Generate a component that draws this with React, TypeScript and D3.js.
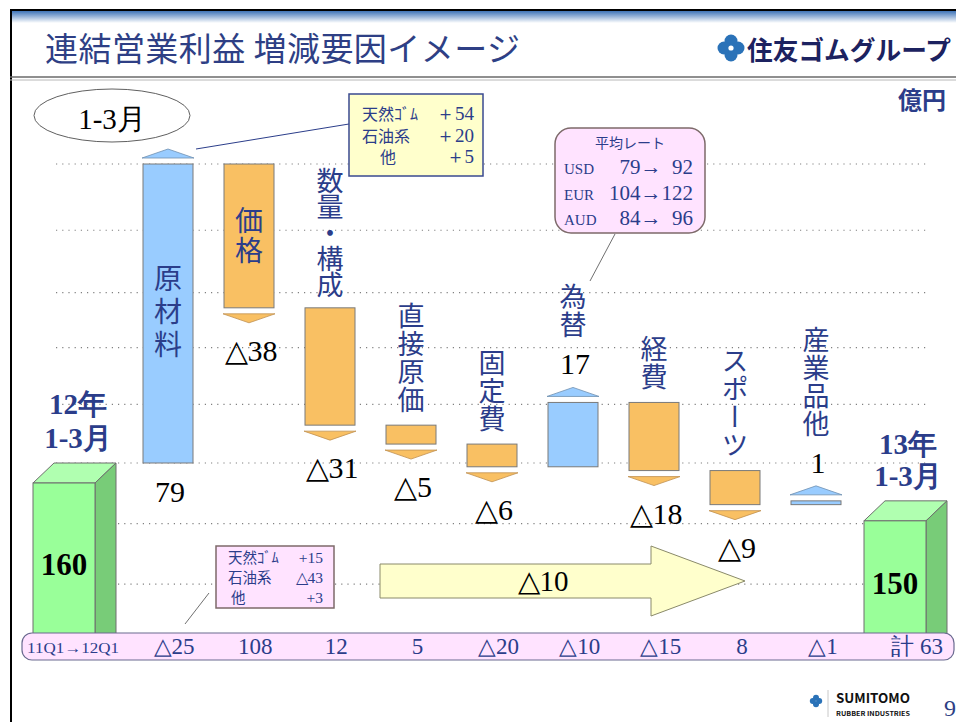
import React from 'react';
import * as d3 from 'd3';

// 連結営業利益 増減要因 (億円)
const startValue = 160;
const endValue = 150;
const startTitle = ['12年', '1-3月'];
const endTitle = ['13年', '1-3月'];
const categories = ['原材料', '価格', '数量・構成', '直接原価', '固定費', '為替', '経費', 'スポーツ', '産業品他'];
const deltas = [79, -38, -31, -5, -6, 17, -18, -9, 1];
const totalChange = -10;

// 前年同期 (11Q1→12Q1) の増減
const prevLabel = '11Q1→12Q1';
const prevDeltas = ['△25', '108', '12', '5', '△20', '△10', '△15', '8', '△1'];
const prevTotal = '計 63';

// 原材料の内訳
const rawNames = ['天然ｺﾞﾑ', '石油系', '他'];
const rawValues = ['＋54', '＋20', '＋5'];
const prevRawValues = ['+15', '△43', '+3'];

// 平均レート
const currencies = ['USD', 'EUR', 'AUD'];
const ratePrev = [79, 104, 84];
const rateNow = [92, 122, 96];

const gridValues = [239, 221.5, 205, 190.5, 175.5, 160, 144, 128];

const navy = '#2b3d8a';
const orange = '#f9c063';
const blue = '#99ccff';
const serif = '"Liberation Serif", "Times New Roman", serif';
const gothic = '"Noto Sans CJK JP", "Noto Sans", sans-serif';

const fmt = (v: number) => (v < 0 ? '△' + Math.abs(v) : String(v));

function VText({ x, y, anchor, text, size, spacing }: any) {
  return (
    <text x={x} y={y} writingMode="vertical-rl" textAnchor={anchor} fontFamily={gothic}
      fontSize={size} fill={navy} style={{ letterSpacing: spacing }}>{text}</text>
  );
}

function GreenBar({ cx, top, bottom, label }: any) {
  const w = 62, dx = 21, dy = 20;
  const x0 = cx - w / 2, x1 = cx + w / 2, ft = top + dy;
  const topFace = d3.line()([[x0, ft], [x1, ft], [x1 + dx, top], [x0 + dx, top]]) + 'Z';
  const side = d3.line()([[x1, ft], [x1 + dx, top], [x1 + dx, bottom], [x1, bottom]]) + 'Z';
  return (
    <g stroke="#6e6e6e" strokeWidth={1}>
      <path d={topFace} fill="#b0ffb0" />
      <path d={side} fill="#78cc78" />
      <rect x={x0} y={ft} width={w} height={bottom - ft} fill="#99ff99" />
      <text x={cx} y={(ft + bottom) / 2 + 11} textAnchor="middle" fontFamily={serif} fontWeight="bold"
        fontSize={31} fill="#000" stroke="none">{label}</text>
    </g>
  );
}

export default function App() {
  const W = 956, H = 722;
  const y = d3.scaleLinear().domain([startValue, startValue + deltas[0]]).range([463, 164]);
  const x = d3.scalePoint<string>().domain(categories).range([168, 816]);
  const xEnds = d3.scalePoint<string>().domain(['start', 'end']).range([64, 895]);
  const xRow = d3.scalePoint<string>().domain(prevDeltas.map((_, i) => String(i))).range([174, 823]);
  const rowTop = 633, rowH = 27;

  let run = startValue;
  const steps = deltas.map((d, i) => {
    const from = run;
    run += d;
    return { cat: categories[i], d, from, to: run };
  });

  const bw = 50;

  return (
    <svg width={W} height={H} style={{ position: 'absolute', left: 0, top: 0 }}>
      <defs>
        <linearGradient id="hdr" x1="0" y1="0" x2="0" y2="1">
          <stop offset="0" stopColor="#3f74b8" />
          <stop offset="1" stopColor="#ffffff" />
        </linearGradient>
      </defs>
      <rect width={W} height={H} fill="#fff" />
      {/* frame / header */}
      <rect x={10} y={11} width={W - 10} height={12} fill="url(#hdr)" />
      <line x1={10} x2={W} y1={10} y2={10} stroke="#000" strokeWidth={2} />
      <line x1={11} x2={11} y1={10} y2={H} stroke="#000" strokeWidth={2} />
      <line x1={10} x2={W} y1={77} y2={77} stroke="#6a6a6a" strokeWidth={1.5} />
      <line x1={10} x2={W} y1={80} y2={80} stroke="#b8b8b8" strokeWidth={1} />
      <text x={45} y={61} fontFamily={gothic} fontSize={33} fill="#2e3f85" textLength={475}
        lengthAdjust="spacing">連結営業利益 増減要因イメージ</text>
      <g transform="translate(731,48)" fill="#2a72b8">
        <circle cx={0} cy={-7} r={6.5} />
        <circle cx={7} cy={0} r={6.5} />
        <circle cx={0} cy={7} r={6.5} />
        <circle cx={-7} cy={0} r={6.5} />
        <circle cx={0} cy={0} r={2.6} fill="#fff" />
      </g>
      <text x={747} y={60} fontFamily={gothic} fontWeight="bold" fontSize={26} fill="#1c2260"
        textLength={204} lengthAdjust="spacingAndGlyphs">住友ゴムグループ</text>
      <text x={946} y={109} textAnchor="end" fontFamily={gothic} fontWeight="bold" fontSize={24}
        fill={navy}>億円</text>

      {/* grid */}
      {gridValues.map(v => (
        <line key={v} x1={56} x2={926} y1={y(v)} y2={y(v)} stroke="#808080" strokeWidth={1.2}
          strokeDasharray="1.2,5" />
      ))}

      <ellipse cx={112} cy={115.5} rx={78} ry={26.5} fill="#fff" stroke="#606060" strokeWidth={1} />
      <text x={112} y={129} textAnchor="middle" fontFamily={serif} fontSize={29} fill="#000">1-3月</text>

      {/* start / end */}
      <GreenBar cx={xEnds('start')} top={y(startValue)} bottom={645} label={String(startValue)} />
      <GreenBar cx={xEnds('end')} top={y(endValue)} bottom={645} label={String(endValue)} />
      {startTitle.map((t, i) => (
        <text key={t} x={xEnds('start')! + 14} y={414 + i * 34} textAnchor="middle" fontFamily={serif}
          fontWeight="bold" fontSize={29} fill={navy}>{t}</text>
      ))}
      {endTitle.map((t, i) => (
        <text key={t} x={xEnds('end')! + 13} y={y(endValue) - 47 + i * 32} textAnchor="middle"
          fontFamily={serif} fontWeight="bold" fontSize={29} fill={navy}>{t}</text>
      ))}

      {/* waterfall steps */}
      {steps.map(s => {
        const cx = x(s.cat)!;
        const top = y(Math.max(s.from, s.to));
        const bottom = y(Math.min(s.from, s.to));
        const up = s.d > 0;
        const fill = up ? blue : orange;
        const baseY = up ? top - 6 : bottom + 6;
        const tipY = up ? top - 15 : bottom + 15;
        const arrow = d3.line()([[cx - 26, baseY], [cx + 26, baseY], [cx, tipY]]) + 'Z';
        const inside = bottom - top > 130;
        let valueY: number;
        if (up && inside) valueY = bottom + 39;
        else if (up) valueY = tipY - 13;
        else valueY = tipY + 38;
        const chars = s.cat.length;
        return (
          <g key={s.cat}>
            <rect x={cx - bw / 2} y={top} width={bw} height={Math.max(bottom - top, 1)} fill={fill}
              stroke="#7a7a7a" strokeWidth={1} />
            <path d={arrow} fill={fill} stroke={up ? '#6f8fb0' : '#c09050'} strokeWidth={0.8} />
            <text x={cx + 2} y={valueY} textAnchor="middle" fontFamily={serif} fontSize={30}
              fill="#000">{fmt(s.d)}</text>
            {inside ? (
              <VText x={cx} y={(top + bottom) / 2} anchor="middle" text={s.cat} size={28}
                spacing={chars === 3 ? 5 : 2} />
            ) : (
              <VText x={cx} y={up ? valueY - 35 : top - 11} anchor="end" text={s.cat} size={27}
                spacing={chars > 4 ? -1 : 1} />
            )}
          </g>
        );
      })}

      {/* raw material breakdown (this year) */}
      <line x1={196} y1={149} x2={349} y2={124} stroke={navy} strokeWidth={1} />
      <rect x={349} y={94} width={134} height={82} fill="#ffffcc" stroke="#3a4a90" strokeWidth={1.5} />
      {rawNames.map((n, i) => (
        <g key={n}>
          <text x={n.length === 1 ? 380 : 362} y={120 + i * 21.5} fontFamily={gothic} fontSize={16}
            fill={navy}>{n}</text>
          <text x={474} y={120 + i * 21.5} textAnchor="end" fontFamily={serif} fontSize={19}
            fill={navy}>{rawValues[i]}</text>
        </g>
      ))}

      {/* average rates */}
      <line x1={615} y1={234} x2={590} y2={281} stroke="#707070" strokeWidth={1} />
      <rect x={555} y={128} width={150} height={105} rx={16} fill="#ffe3ff" stroke="#7d6a6a"
        strokeWidth={1.5} />
      <text x={630} y={148} textAnchor="middle" fontFamily={gothic} fontSize={14} fill={navy}>平均レート</text>
      {currencies.map((c, i) => (
        <g key={c}>
          <text x={564} y={174 + i * 25.5} fontFamily={serif} fontSize={15} fill={navy}>{c}</text>
          <text x={693} y={174 + i * 25.5} textAnchor="end" fontFamily={serif} fontSize={21}
            fill={navy} style={{ whiteSpace: 'pre' }}>
            {`${ratePrev[i]}→${String(rateNow[i]).padStart(3, ' ').replace(/ /g, '\u2002')}`}
          </text>
        </g>
      ))}

      {/* raw material breakdown (previous year) */}
      <line x1={209} y1={593} x2={185} y2={624} stroke="#707070" strokeWidth={1} />
      <rect x={216} y={546} width={118} height={62} fill="#ffe3ff" stroke="#7d6a6a" strokeWidth={1.5} />
      {rawNames.map((n, i) => (
        <g key={n}>
          <text x={n.length === 1 ? 231 : 228} y={563 + i * 20} fontFamily={gothic} fontSize={14.5}
            fill={navy}>{n}</text>
          <text x={323} y={563 + i * 20} textAnchor="end" fontFamily={serif} fontSize={15.5}
            fill={navy}>{prevRawValues[i]}</text>
        </g>
      ))}

      {/* total change arrow */}
      <path d={d3.line()([[380, 564], [651, 564], [651, 546], [745, 581], [651, 616], [651, 598],
        [380, 598]]) + 'Z'} fill="#ffffcc" stroke="#8a8a6a" strokeWidth={1} />
      <text x={543} y={591} textAnchor="middle" fontFamily={serif} fontSize={29} fill="#000">
        {fmt(totalChange)}</text>

      {/* previous year row */}
      <rect x={22} y={rowTop} width={932} height={rowH} rx={10} fill="#ffe3ff" stroke="#6a6a90"
        strokeWidth={1.2} />
      <text x={27} y={rowTop + 20} fontFamily={serif} fontSize={15} fill={navy}
        textLength={92} lengthAdjust="spacingAndGlyphs">{prevLabel}</text>
      {prevDeltas.map((v, i) => (
        <text key={i} x={xRow(String(i))} y={rowTop + 21} textAnchor="middle" fontFamily={serif}
          fontSize={23} fill={navy}>{v}</text>
      ))}
      <text x={943} y={rowTop + 21} textAnchor="end" fontFamily={serif} fontSize={23} fill={navy}>{prevTotal}</text>

      {/* footer logo */}
      <g transform="translate(816,701)" fill="#2a72b8">
        <circle cx={0} cy={-3.2} r={3} />
        <circle cx={3.2} cy={0} r={3} />
        <circle cx={0} cy={3.2} r={3} />
        <circle cx={-3.2} cy={0} r={3} />
      </g>
      <line x1={828} x2={828} y1={690} y2={717} stroke="#c8c8c8" strokeWidth={1} />
      <text x={836} y={703} fontFamily={gothic} fontWeight="bold" fontSize={13} fill="#111"
        textLength={74} lengthAdjust="spacingAndGlyphs">SUMITOMO</text>
      <text x={836} y={716} fontFamily={gothic} fontWeight="bold" fontSize={6.5} fill="#111"
        textLength={74} lengthAdjust="spacingAndGlyphs">RUBBER INDUSTRIES</text>
      <text x={944} y={716} fontFamily={serif} fontSize={24} fill="#2e3f85">9</text>
    </svg>
  );
}
